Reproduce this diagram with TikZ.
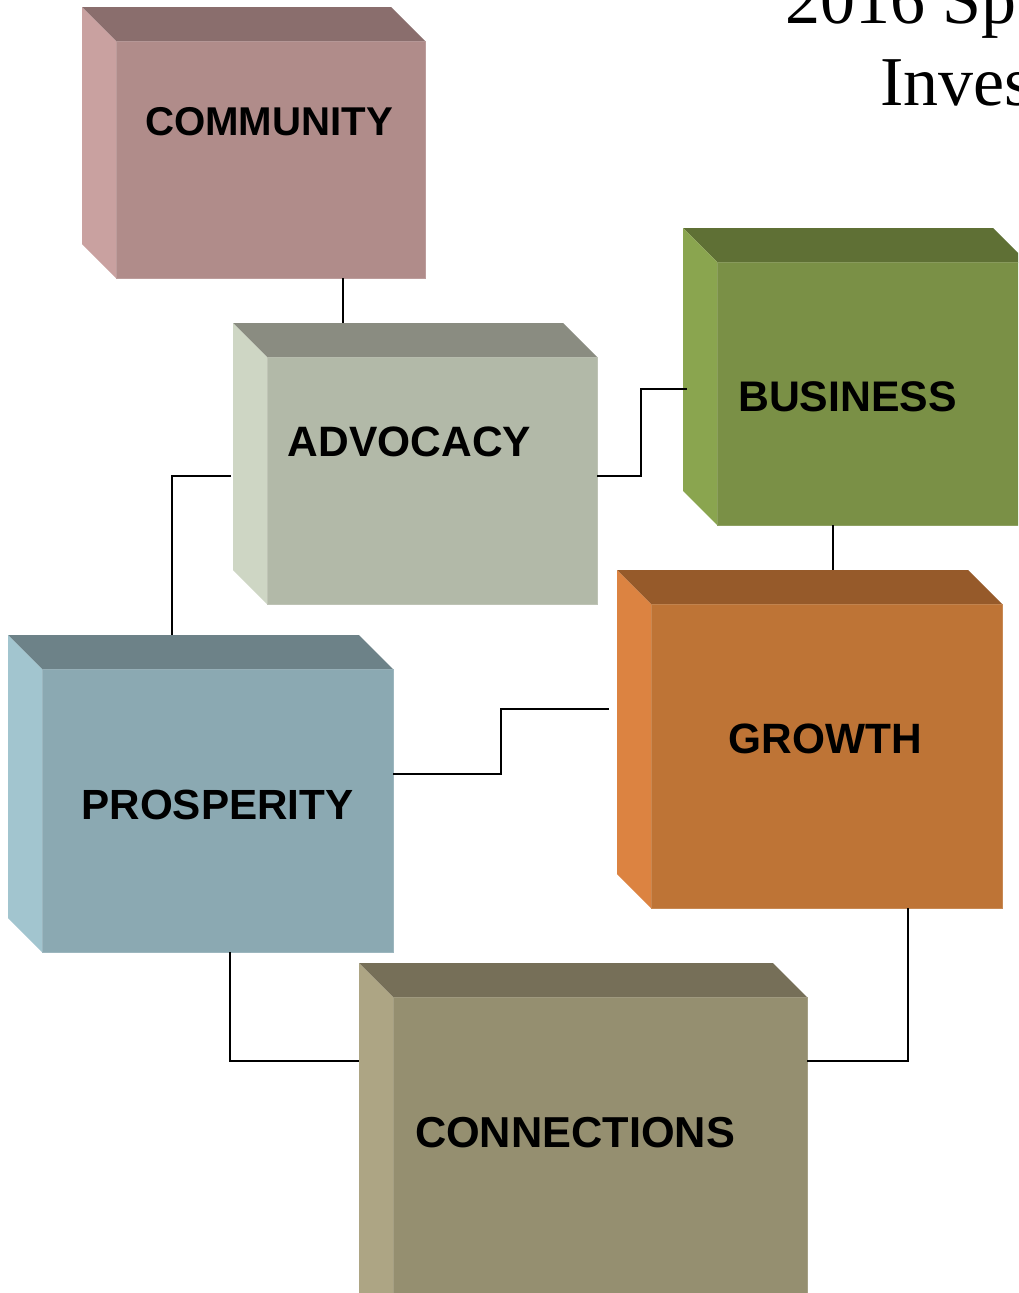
\documentclass[tikz,border=0pt]{standalone}
\usepackage{fontspec}
\setmainfont{Liberation Sans}
\newfontfamily\titlefont{Liberation Serif}
\usetikzlibrary{calc}
\definecolor{comF}{HTML}{B08C8A}\definecolor{comT}{HTML}{8A6E6D}\definecolor{comL}{HTML}{C9A1A0}
\definecolor{advF}{HTML}{B2B9A8}\definecolor{advT}{HTML}{8A8C81}\definecolor{advL}{HTML}{CED6C4}
\definecolor{busF}{HTML}{7A9046}\definecolor{busT}{HTML}{5F7035}\definecolor{busL}{HTML}{8AA54F}
\definecolor{groF}{HTML}{BE7436}\definecolor{groT}{HTML}{965A2A}\definecolor{groL}{HTML}{DC8341}
\definecolor{proF}{HTML}{8BA9B2}\definecolor{proT}{HTML}{6D8288}\definecolor{proL}{HTML}{A2C5CF}
\definecolor{conF}{HTML}{958F70}\definecolor{conT}{HTML}{766F58}\definecolor{conL}{HTML}{ADA584}
\newcommand\cubefaces[3]{%
  \fill[#2] (#1.north west) -- ++(-34,-34) -- ($(#1.north east)+(-34,-34)$) -- (#1.north east) -- cycle;
  \fill[#3] (#1.north west) -- ++(-34,-34) -- ($(#1.south west)+(-34,-34)$) -- (#1.south west) -- cycle;
  \coordinate (#1-tl) at ($(#1.north west)+(-34,-34)$);
}
\begin{document}
\begin{tikzpicture}[x=1pt,y=-1pt,
  front/.style={inner sep=0pt, outer sep=0pt, anchor=north west, line width=1pt},
  lbl/.style={inner sep=0pt, font=\bfseries\fontsize{#1}{#1}\selectfont, text=black},
  ttl/.style={inner sep=0pt, anchor=base west, font=\titlefont\fontsize{70}{80}\selectfont},
  conn/.style={draw=black, line width=1.8pt}]
\useasboundingbox (0,0) rectangle (1018,1293);
\clip (0,0) rectangle (1018,1293);
% title
\node[ttl] (t1) at (785,23) {2016 Sp};
\node[ttl] (t2) at (880,105) {Inves};
% boxes
\node[front, fill=comF, draw=comF!85!white, minimum width=309pt, minimum height=237pt] (com) at (116,41) {};
\cubefaces{com}{comT}{comL}
\node[front, fill=advF, draw=advF!85!white, minimum width=330pt, minimum height=247pt] (adv) at (267,357) {};
\cubefaces{adv}{advT}{advL}
\node[front, fill=busF, draw=busF!85!white, minimum width=310pt, minimum height=263pt] (bus) at (717,262) {};
\cubefaces{bus}{busT}{busL}
\node[front, fill=groF, draw=groF!85!white, minimum width=351pt, minimum height=304pt] (gro) at (651,604) {};
\cubefaces{gro}{groT}{groL}
\node[front, fill=proF, draw=proF!85!white, minimum width=351pt, minimum height=283pt] (pro) at (42,669) {};
\cubefaces{pro}{proT}{proL}
\node[front, fill=conF, draw=conF!85!white, minimum width=414pt, minimum height=340pt] (con) at (393,997) {};
\cubefaces{con}{conT}{conL}
% labels
\node[lbl=40.2] (comlbl) at (269,122) {COMMUNITY};
\node[lbl=42.5] (advlbl) at (409.5,442) {ADVOCACY};
\node[lbl=42.8] (buslbl) at (847.5,397) {BUSINESS};
\node[lbl=42.4] (grolbl) at (825.5,738.5) {GROWTH};
\node[lbl=42.2] (prolbl) at (217.5,805) {PROSPERITY};
\node[lbl=43.3] (conlbl) at (575,1133) {CONNECTIONS};
% connectors
\draw[conn] (com.south -| 343,0) -- (adv-tl -| 343,0);
\draw[conn] ([xshift=-2pt]adv-tl |- 0,476) -| (pro-tl -| 172,0);
\draw[conn] (adv.east |- 0,476) -- (641,476) |- ([xshift=4pt]bus-tl |- 0,389);
\draw[conn] (bus.south -| 833,0) -- (gro-tl -| 833,0);
\draw[conn] (pro.east |- 0,774) -- (501,774) |- ([xshift=-8pt]gro-tl |- 0,709);
\draw[conn] (pro.south -| 230,0) |- (con-tl |- 0,1061);
\draw[conn] (gro.south -| 908,0) |- (con.east |- 0,1061);
\end{tikzpicture}
\end{document}
